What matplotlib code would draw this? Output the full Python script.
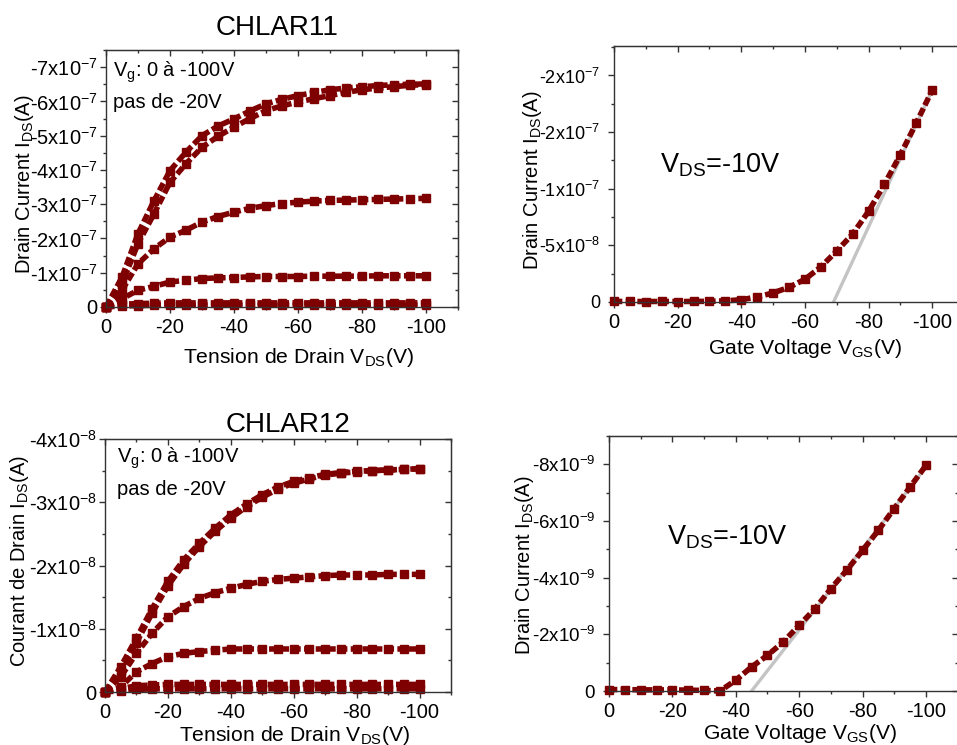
"""Caractéristiques de sortie et de transfert — CHLAR11 / CHLAR12.

Quatre panneaux : I_DS(V_DS) pour V_g de 0 à -100 V (gauche) et
I_DS(V_GS) à V_DS = -10 V avec la droite d'extrapolation (droite).
Sortie : out.png
"""

import matplotlib

matplotlib.use("Agg")
import matplotlib.pyplot as plt  # noqa: E402
import numpy as np  # noqa: E402
from matplotlib.ticker import FixedLocator, MultipleLocator  # noqa: E402

plt.rcParams["font.family"] = ["Liberation Sans", "DejaVu Sans"]
plt.rcParams["mathtext.fontset"] = "custom"
plt.rcParams["mathtext.rm"] = "Liberation Sans"
plt.rcParams["mathtext.default"] = "regular"
plt.rcParams["axes.unicode_minus"] = False

RED = "#7f0000"
GREY = "#c4c4c4"
SPINE = "#333333"

# --------------------------------------------------------------------------- #
# Données (valeurs absolues ; le signe est remis au tracé)
# --------------------------------------------------------------------------- #
vds = np.arange(0, -101, -5)  # V
vgs = np.arange(0, -101, -5)  # V

# CHLAR11, sortie, unités 1e-7 A
ch11_out = {
    "Vg=0V":    [0, 0.03, 0.04, 0.05, 0.05, 0.05, 0.05, 0.05, 0.05, 0.05, 0.05,
                 0.05, 0.05, 0.05, 0.05, 0.05, 0.05, 0.05, 0.05, 0.05, 0.05],
    "Vg=-20V":  [0, 0.08, 0.10, 0.11, 0.12, 0.12, 0.12, 0.12, 0.12, 0.12, 0.12,
                 0.12, 0.12, 0.12, 0.12, 0.12, 0.12, 0.12, 0.12, 0.12, 0.12],
    "Vg=-40V":  [0, 0.24, 0.49, 0.60, 0.73, 0.78, 0.83, 0.85, 0.86, 0.88, 0.89,
                 0.89, 0.89, 0.90, 0.90, 0.90, 0.90, 0.91, 0.91, 0.91, 0.91],
    "Vg=-60V":  [0, 0.49, 1.26, 1.70, 2.04, 2.24, 2.48, 2.64, 2.77, 2.88, 2.96,
                 3.02, 3.06, 3.09, 3.11, 3.12, 3.13, 3.14, 3.15, 3.16, 3.17],
    "Vg=-80V":  [0, 0.68, 1.85, 2.72, 3.64, 4.18, 4.66, 4.98, 5.25, 5.50, 5.73,
                 5.87, 5.98, 6.08, 6.17, 6.26, 6.34, 6.39, 6.43, 6.47, 6.49],
    "Vg=-100V": [0, 0.87, 2.14, 3.10, 3.98, 4.52, 5.00, 5.28, 5.49, 5.72, 5.93,
                 6.06, 6.17, 6.26, 6.34, 6.39, 6.43, 6.46, 6.49, 6.50, 6.51],
}

# CHLAR12, sortie, unités 1e-8 A
ch12_out = {
    "Vg=0V":    [0, 0.02, 0.04, 0.05, 0.05, 0.05, 0.05, 0.05, 0.05, 0.05, 0.05,
                 0.05, 0.05, 0.05, 0.05, 0.05, 0.05, 0.05, 0.05, 0.05, 0.05],
    "Vg=-20V":  [0, 0.05, 0.10, 0.11, 0.12, 0.12, 0.12, 0.12, 0.12, 0.12, 0.12,
                 0.12, 0.12, 0.12, 0.12, 0.12, 0.12, 0.12, 0.12, 0.12, 0.12],
    "Vg=-40V":  [0, 0.08, 0.32, 0.45, 0.56, 0.61, 0.64, 0.66, 0.68, 0.68, 0.68,
                 0.68, 0.68, 0.68, 0.68, 0.68, 0.68, 0.68, 0.68, 0.68, 0.68],
    "Vg=-60V":  [0, 0.24, 0.61, 0.93, 1.19, 1.35, 1.48, 1.57, 1.64, 1.70, 1.75,
                 1.78, 1.80, 1.82, 1.84, 1.85, 1.85, 1.85, 1.86, 1.86, 1.86],
    "Vg=-80V":  [0, 0.33, 0.78, 1.25, 1.68, 2.02, 2.30, 2.54, 2.75, 2.93, 3.08,
                 3.21, 3.30, 3.37, 3.43, 3.46, 3.48, 3.50, 3.51, 3.52, 3.53],
    "Vg=-100V": [0, 0.40, 0.85, 1.32, 1.75, 2.09, 2.35, 2.59, 2.80, 2.97, 3.12,
                 3.24, 3.33, 3.39, 3.44, 3.47, 3.49, 3.50, 3.51, 3.52, 3.53],
}

# Transfert à V_DS = -10 V
ch11_tr = [0.05, 0.05, 0.04, 0.05, 0.04, 0.05, 0.06, 0.10, 0.20, 0.45, 0.80,
           1.30, 2.00, 3.10, 4.50, 6.00, 8.00, 10.4, 13.0, 15.8, 18.7]   # 1e-8 A
ch12_tr = [0.05, 0.05, 0.04, 0.04, 0.04, 0.03, 0.02, 0.00, 0.38, 0.85, 1.26,
           1.73, 2.32, 2.90, 3.61, 4.26, 4.96, 5.67, 6.44, 7.20, 7.96]   # 1e-9 A

# Droites d'extrapolation (V_T)
ch11_fit_v = [-69, -100]
ch11_fit_i = [0, 18.7]    # 1e-8 A
ch12_fit_v = [-45, -100]
ch12_fit_i = [0, 7.9]     # 1e-9 A

# Graduations en y
ch11_out_ticks = [0, -1e-7, -2e-7, -3e-7, -4e-7, -5e-7, -6e-7, -7e-7]
ch11_out_labels = ["0"] + [rf"-{k}x10$^{{-7}}$" for k in range(1, 8)]
ch12_out_ticks = [0, -1e-8, -2e-8, -3e-8, -4e-8]
ch12_out_labels = ["0"] + [rf"-{k}x10$^{{-8}}$" for k in range(1, 5)]
ch11_tr_ticks = [0, -5e-8, -1e-7, -1.5e-7, -2e-7]
ch11_tr_labels = ["0", r"-5x10$^{-8}$", r"-1x10$^{-7}$", r"-2x10$^{-7}$",
                  r"-2x10$^{-7}$"]
ch12_tr_ticks = [0, -2e-9, -4e-9, -6e-9, -8e-9]
ch12_tr_labels = ["0"] + [rf"-{k}x10$^{{-9}}$" for k in (2, 4, 6, 8)]

W, H = 957, 745
fig = plt.figure(figsize=(W / 100, H / 100), dpi=100)


def add_ax(left, right, top, bottom):
    return fig.add_axes([left / W, 1 - bottom / H, (right - left) / W, (bottom - top) / H])


def style(ax, yticks, ylabels, ymin, yminor, ypad, ysize):
    ax.set_xlim(0, -110)
    ax.set_ylim(0, ymin)
    ax.xaxis.set_major_locator(FixedLocator([0, -20, -40, -60, -80, -100]))
    ax.xaxis.set_minor_locator(MultipleLocator(10))
    ax.set_yticks(yticks)
    ax.set_yticklabels(ylabels)
    ax.yaxis.set_minor_locator(MultipleLocator(yminor))
    for s in ax.spines.values():
        s.set_color(SPINE)
        s.set_linewidth(1.0)
    ax.tick_params(which="both", direction="out", colors=SPINE, labelcolor="black",
                   width=1.0)
    ax.tick_params(which="major", length=4)
    ax.tick_params(which="minor", length=2.5)
    ax.tick_params(axis="x", pad=4, labelsize=14.5)
    ax.tick_params(axis="y", pad=ypad, labelsize=ysize)
    # graduations miroir, vers l'intérieur (style Origin)
    top = ax.secondary_xaxis("top")
    top.xaxis.set_major_locator(FixedLocator([0, -20, -40, -60, -80, -100]))
    top.xaxis.set_minor_locator(MultipleLocator(10))
    right = ax.secondary_yaxis("right")
    right.set_yticks(yticks)
    right.yaxis.set_minor_locator(MultipleLocator(yminor))
    for sec in (top, right):
        sec.tick_params(which="both", direction="in", colors=SPINE, width=1.0,
                        labeltop=False, labelright=False)
        sec.tick_params(which="major", length=4)
        sec.tick_params(which="minor", length=2.5)
        for s in sec.spines.values():
            s.set_color(SPINE)


def plot_curve(ax, x, y):
    ax.plot(x, y, color=RED, lw=4.0, ls=(0, (1.5, 0.6)), marker="s", ms=6,
            mec=RED, mfc=RED, clip_on=False)


# --- CHLAR11 sortie -------------------------------------------------------- #
ax1 = add_ax(106, 458, 50, 307)
for vals in ch11_out.values():
    plot_curve(ax1, vds, -np.array(vals) * 1e-7)
style(ax1, ch11_out_ticks, ch11_out_labels, -7.5e-7, 0.5e-7, 2, 14.5)
ax1.set_xlabel(r"Tension de Drain V$_{DS}$(V)", fontsize=15.2)
ax1.xaxis.set_label_coords(0.548, -0.15)
ax1.set_ylabel(r"Drain Current I$_{DS}$(A)", fontsize=14.5)
ax1.yaxis.set_label_coords(-0.2, 0.48)
ax1.text(0.02, 0.895, r"V$_g$: 0 à -100V", transform=ax1.transAxes, fontsize=14.5)
ax1.text(0.02, 0.775, "pas de -20V", transform=ax1.transAxes, fontsize=14.5)
fig.text(277 / W, 1 - 35 / H, "CHLAR11", ha="center", va="baseline", fontsize=20)

# --- CHLAR11 transfert ----------------------------------------------------- #
ax2 = add_ax(614, 964, 46, 302)
ax2.plot(ch11_fit_v, -np.array(ch11_fit_i) * 1e-8, color=GREY, lw=2.4)
plot_curve(ax2, vgs, -np.array(ch11_tr) * 1e-8)
style(ax2, ch11_tr_ticks, ch11_tr_labels, -2.26e-7, 2.5e-8, 6, 13)
ax2.set_xlabel(r"Gate Voltage V$_{GS}$(V)", fontsize=15.2)
ax2.xaxis.set_label_coords(0.546, -0.135)
ax2.set_ylabel(r"Drain Current I$_{DS}$(A)", fontsize=14.5)
ax2.yaxis.set_label_coords(-0.2, 0.477)
ax2.text(0.131, 0.504, r"V$_{DS}$=-10V", transform=ax2.transAxes, fontsize=19.5)

# --- CHLAR12 sortie -------------------------------------------------------- #
ax3 = add_ax(105, 451, 439, 692)
for vals in ch12_out.values():
    plot_curve(ax3, vds, -np.array(vals) * 1e-8)
style(ax3, ch12_out_ticks, ch12_out_labels, -4e-8, 0.5e-8, 2, 14.5)
ax3.set_xlabel(r"Tension de Drain V$_{DS}$(V)", fontsize=15.2)
ax3.xaxis.set_label_coords(0.549, -0.125)
ax3.set_ylabel(r"Courant de Drain I$_{DS}$(A)", fontsize=14.5)
ax3.yaxis.set_label_coords(-0.213, 0.518)
ax3.text(0.035, 0.905, r"V$_g$: 0 à -100V", transform=ax3.transAxes, fontsize=14.5)
ax3.text(0.035, 0.779, "pas de -20V", transform=ax3.transAxes, fontsize=14.5)
fig.text(288 / W, 1 - 432 / H, "CHLAR12", ha="center", va="baseline", fontsize=20)

# --- CHLAR12 transfert ----------------------------------------------------- #
ax4 = add_ax(609, 957.6, 436, 691)
ax4.plot(ch12_fit_v, -np.array(ch12_fit_i) * 1e-9, color=GREY, lw=2.4)
plot_curve(ax4, vgs, -np.array(ch12_tr) * 1e-9)
style(ax4, ch12_tr_ticks, ch12_tr_labels, -9e-9, 1e-9, 6, 13.5)
ax4.set_xlabel(r"Gate Voltage V$_{GS}$(V)", fontsize=15.2)
ax4.xaxis.set_label_coords(0.548, -0.12)
ax4.set_ylabel(r"Drain Current I$_{DS}$(A)", fontsize=14.5)
ax4.yaxis.set_label_coords(-0.21, 0.494)
ax4.text(0.166, 0.573, r"V$_{DS}$=-10V", transform=ax4.transAxes, fontsize=19.5)

fig.savefig("out.png", dpi=100)
